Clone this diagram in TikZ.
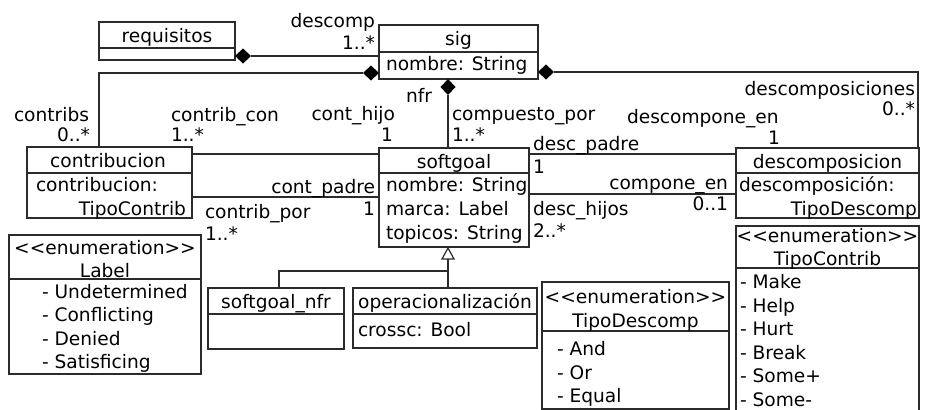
\documentclass[tikz,border=0pt]{standalone}
\usepackage{fontspec}
\setmainfont{DejaVu Sans}
\usetikzlibrary{calc,shapes.geometric}
\definecolor{lc}{HTML}{2B2B2B}
\newcommand\dgfont{\fontsize{18.6pt}{23pt}\selectfont}
\tikzset{
  ln/.style={draw=lc, line width=1.2pt},
  box/.style={ln, rectangle, inner sep=0pt, outer sep=0pt, anchor=north west},
  tx/.style={inner sep=0pt, outer sep=0pt, font=\dgfont, text=black, yshift=-5pt},
  diam/.style={diamond, fill=black, draw=none, inner sep=0pt, outer sep=0pt, minimum width=16pt, minimum height=15pt},
  vdiam/.style={diam, minimum width=15pt, minimum height=16pt},
}
\newcommand\divider[2]{\draw[ln] ($(#1.north west)+(0,#2)$) -- ($(#1.north east)+(0,#2)$);}
\begin{document}
\begin{tikzpicture}[x=1pt,y=-1pt]
\useasboundingbox (0,0) rectangle (930,410);
% boxes
\node[box, minimum width=136pt, minimum height=38pt] (req) at (99,22) {};
\node[box, minimum width=159pt, minimum height=54pt] (sig) at (379,25) {};
\node[box, minimum width=165pt, minimum height=71pt] (contr) at (27,147) {};
\node[box, minimum width=150pt, minimum height=99pt] (soft) at (379,148) {};
\node[box, minimum width=183pt, minimum height=70pt] (desc) at (736,148) {};
\node[box, minimum width=192pt, minimum height=139pt] (lab) at (9,235) {};
\node[box, minimum width=136pt, minimum height=61pt] (nfr) at (208,288) {};
\node[box, minimum width=184pt, minimum height=60pt] (oper) at (353,288) {};
\node[box, minimum width=187pt, minimum height=127pt] (tdesc) at (542,282) {};
\node[box, minimum width=183pt, minimum height=200pt] (tcontr) at (736,226) {};
\divider{req}{26}
\divider{sig}{27}
\divider{contr}{26}
\divider{soft}{25}
\divider{desc}{25}
\divider{lab}{44}
\divider{nfr}{26}
\divider{oper}{26}
\divider{tdesc}{49}
\divider{tcontr}{42}
% headers
\node[tx] (h1) at (167,35) [anchor=mid] {requisitos};
\node[tx] (h2) at (458.5,38) [anchor=mid] {sig};
\node[tx] (h3) at (108,160) [anchor=mid] {contribucion};
\node[tx] (h4) at (454,161) [anchor=mid] {softgoal};
\node[tx] (h5) at (827.5,161) [anchor=mid] {descomposicion};
\node[tx] (h6) at (105,247) [anchor=mid] {<{}<enumeration>{}>};
\node[tx] (h7) at (105,270) [anchor=mid] {Label};
\node[tx] (h8) at (276,301) [anchor=mid] {softgoal\_nfr};
\node[tx] (h9) at (445,301) [anchor=mid] {operacionalización};
\node[tx] (h10) at (635.5,296) [anchor=mid] {<{}<enumeration>{}>};
\node[tx] (h11) at (635.5,320) [anchor=mid] {TipoDescomp};
\node[tx] (h12) at (827.5,235) [anchor=mid] {<{}<enumeration>{}>};
\node[tx] (h13) at (827.5,258) [anchor=mid] {TipoContrib};
% attributes
\node[tx, anchor=mid west] (a1) at (386,63) {nombre: String};
\node[tx, anchor=mid west] (a2) at (386,184) {nombre: String};
\node[tx, anchor=mid west] (a3) at (386,208) {marca: Label};
\node[tx, anchor=mid west] (a4) at (386,232) {topicos: String};
\node[tx, anchor=mid west] (a5) at (36,184) {contribucion:};
\node[tx, anchor=mid east] (a6) at (186,208) {TipoContrib};
\node[tx, anchor=mid west] (a7) at (739,184) {descomposición:};
\node[tx, anchor=mid east] (a8) at (917,208) {TipoDescomp};
\node[tx, anchor=mid west] (a9) at (358,329) {crossc: Bool};
\node[tx, anchor=mid west] (l1) at (42,291) {- Undetermined};
\node[tx, anchor=mid west] (l2) at (42,314) {- Conflicting};
\node[tx, anchor=mid west] (l3) at (42,338) {- Denied};
\node[tx, anchor=mid west] (l4) at (42,361) {- Satisficing};
\node[tx, anchor=mid west] (d1) at (557,348) {- And};
\node[tx, anchor=mid west] (d2) at (557,372) {- Or};
\node[tx, anchor=mid west] (d3) at (557,395) {- Equal};
\node[tx, anchor=mid west] (c1) at (740,281) {- Make};
\node[tx, anchor=mid west] (c2) at (740,305) {- Help};
\node[tx, anchor=mid west] (c3) at (740,328) {- Hurt};
\node[tx, anchor=mid west] (c4) at (740,352) {- Break};
\node[tx, anchor=mid west] (c5) at (740,375) {- Some+};
\node[tx, anchor=mid west] (c6) at (740,399) {- Some-};
% diamonds
\node[diam] (dreq) at (243,56) {};
\node[diam] (dsigL) at (371,73) {};
\node[vdiam] (dsigB) at (448,87) {};
\node[diam] (dsigR) at (546,72) {};
% connectors
\draw[ln] (dreq.east) -- (sig.west |- dreq);
\draw[ln] (dsigL.west) -| ($(contr.north west)+(72,0)$);
\draw[ln] (dsigB.south) -- (soft.north -| dsigB);
\draw[ln] (dsigR.east) -| ($(desc.north east)+(-1,0)$);
\draw[ln] ($(contr.north east)+(0,7)$) coordinate (k1) -- (k1 -| soft.west);
\draw[ln] ($(contr.north east)+(0,50)$) coordinate (k2) -- (k2 -| soft.west);
\draw[ln] ($(soft.north east)+(0,6)$) coordinate (k3) -- (k3 -| desc.west);
\draw[ln] ($(soft.north east)+(0,46)$) coordinate (k4) -- (k4 -| desc.west);
% generalization
\coordinate (gt) at ($(soft.south west)+(69,1)$);
\coordinate (gb) at ($(gt)+(0,11)$);
\draw[ln, fill=white, line join=miter] (gt) -- ($(gb)+(-6,0)$) -- ($(gb)+(6,0)$) -- cycle;
\draw[ln] (gb) -- (oper.north -| gb);
\draw[ln] ($(gb)+(0,12)$) -| ($(nfr.north west)+(71,0)$);
% labels
\node[tx, anchor=mid east] (m1) at (375,20) {descomp};
\node[tx, anchor=mid east] (m2) at (375,42) {1..*};
\node[tx, anchor=mid east] (m3) at (432,95) {nfr};
\node[tx, anchor=mid west] (m4) at (452,113) {compuesto\_por};
\node[tx, anchor=mid west] (m5) at (452,134) {1..*};
\node[tx, anchor=mid east] (m6) at (395,113) {cont\_hijo};
\node[tx, anchor=mid east] (m7) at (393,134) {1};
\node[tx, anchor=mid west] (m8) at (171,114) {contrib\_con};
\node[tx, anchor=mid west] (m9) at (171,134) {1..*};
\node[tx, anchor=mid east] (m10) at (89,114) {contribs};
\node[tx, anchor=mid east] (m11) at (90,134) {0..*};
\node[tx, anchor=mid east] (m12) at (915,88) {descomposiciones};
\node[tx, anchor=mid east] (m13) at (915,108) {0..*};
\node[tx, anchor=mid west] (m14) at (627,116) {descompone\_en};
\node[tx, anchor=mid east] (m15) at (780,137) {1};
\node[tx, anchor=mid west] (m16) at (533,143) {desc\_padre};
\node[tx, anchor=mid west] (m17) at (533,166) {1};
\node[tx, anchor=mid east] (m18) at (728,182) {compone\_en};
\node[tx, anchor=mid east] (m19) at (728,203) {0..1};
\node[tx, anchor=mid west] (m20) at (533,208) {desc\_hijos};
\node[tx, anchor=mid west] (m21) at (533,230) {2..*};
\node[tx, anchor=mid east] (m22) at (375,186) {cont\_padre};
\node[tx, anchor=mid east] (m23) at (375,208) {1};
\node[tx, anchor=mid west] (m24) at (205,211) {contrib\_por};
\node[tx, anchor=mid west] (m25) at (205,233) {1..*};
\end{tikzpicture}
\end{document}
